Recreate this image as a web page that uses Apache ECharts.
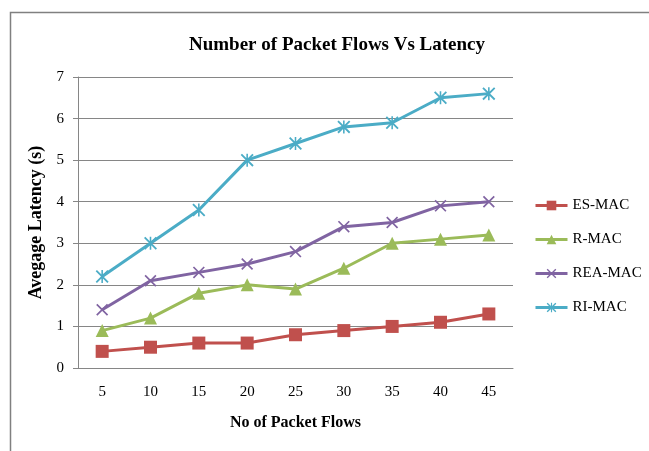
<!DOCTYPE html>
<html>
<head>
<meta charset="utf-8">
<script src="https://cdn.jsdelivr.net/npm/echarts@6/dist/echarts.min.js"></script>
<style>
  html, body { margin: 0; padding: 0; background: #fff; }
  #chart { width: 649px; height: 451px; }
</style>
</head>
<body>
<div id="chart"></div>
<script>
// data
const packetFlows = ["5", "10", "15", "20", "25", "30", "35", "40", "45"];
const esMac = [0.4, 0.5, 0.6, 0.6, 0.8, 0.9, 1.0, 1.1, 1.3];
const rMac = [0.9, 1.2, 1.8, 2.0, 1.9, 2.4, 3.0, 3.1, 3.2];
const reaMac = [1.4, 2.1, 2.3, 2.5, 2.8, 3.4, 3.5, 3.9, 4.0];
const riMac = [2.2, 3.0, 3.8, 5.0, 5.4, 5.8, 5.9, 6.5, 6.6];

const serif = "'Liberation Serif', 'DejaVu Serif', serif";

// marker shapes (Excel style)
const crossPath = "path://M1,0L10,9L9,10L0,1Z M9,0L10,1L1,10L0,9Z";
const starPath = "path://M1,0L10,9L9,10L0,1Z M9,0L10,1L1,10L0,9Z M4.4,0L5.6,0L5.6,10L4.4,10Z";

const chart = echarts.init(document.getElementById("chart"));

function makeSeries(name, data, color, symbol, size) {
    return {
        name: name,
        type: "line",
        data: data,
        symbol: symbol,
        symbolSize: size,
        showAllSymbol: true,
        lineStyle: { color: color, width: 3 },
        itemStyle: { color: color },
        emphasis: { disabled: true },
    };
}

chart.setOption({
    animation: false,
    backgroundColor: "#fff",
    graphic: [
        {
            // chart frame, only left and top edges visible
            type: "rect",
            shape: { x: 10.5, y: 12.5, width: 700, height: 500 },
            style: { fill: "none", stroke: "#808080", lineWidth: 1.5 },
            silent: true,
        },
    ],
    title: {
        text: "Number of Packet Flows Vs Latency",
        left: 184,
        top: 31,
        textStyle: { fontFamily: serif, fontWeight: "bold", fontSize: 19, color: "#000" },
    },
    legend: {
        orient: "vertical",
        left: 529,
        top: 193,
        itemGap: 19,
        itemWidth: 32,
        itemHeight: 12,
        lineStyle: { width: 3 },
        textStyle: { fontFamily: serif, fontSize: 15, color: "#000" },
        data: ["ES-MAC", "R-MAC", "REA-MAC", "RI-MAC"],
    },
    grid: { left: 78, right: 136, top: 77, bottom: 83 },
    xAxis: {
        type: "category",
        data: packetFlows,
        name: "No of Packet Flows",
        nameLocation: "middle",
        nameGap: 47,
        nameTextStyle: { fontFamily: serif, fontWeight: "bold", fontSize: 16, color: "#000" },
        axisLine: { lineStyle: { color: "#868686" } },
        axisTick: { show: false },
        axisLabel: { fontFamily: serif, fontSize: 15, color: "#000", margin: 17 },
    },
    yAxis: {
        type: "value",
        min: 0,
        max: 7,
        interval: 1,
        name: "Avegage Latency (s)",
        nameLocation: "middle",
        nameGap: 28,
        nameTextStyle: { fontFamily: serif, fontWeight: "bold", fontSize: 18, color: "#000" },
        axisLine: { show: true, lineStyle: { color: "#868686" } },
        axisTick: { show: true, length: 5, lineStyle: { color: "#868686" } },
        axisLabel: { fontFamily: serif, fontSize: 15, color: "#000", margin: 14 },
        splitLine: { lineStyle: { color: "#868686", width: 1 } },
    },
    series: [
        makeSeries("ES-MAC", esMac, "#C0504D", "rect", 13),
        makeSeries("R-MAC", rMac, "#9BBB59", "triangle", 13),
        makeSeries("REA-MAC", reaMac, "#8064A2", crossPath, 12),
        makeSeries("RI-MAC", riMac, "#4BACC6", starPath, 13),
    ],
});
</script>
</body>
</html>
